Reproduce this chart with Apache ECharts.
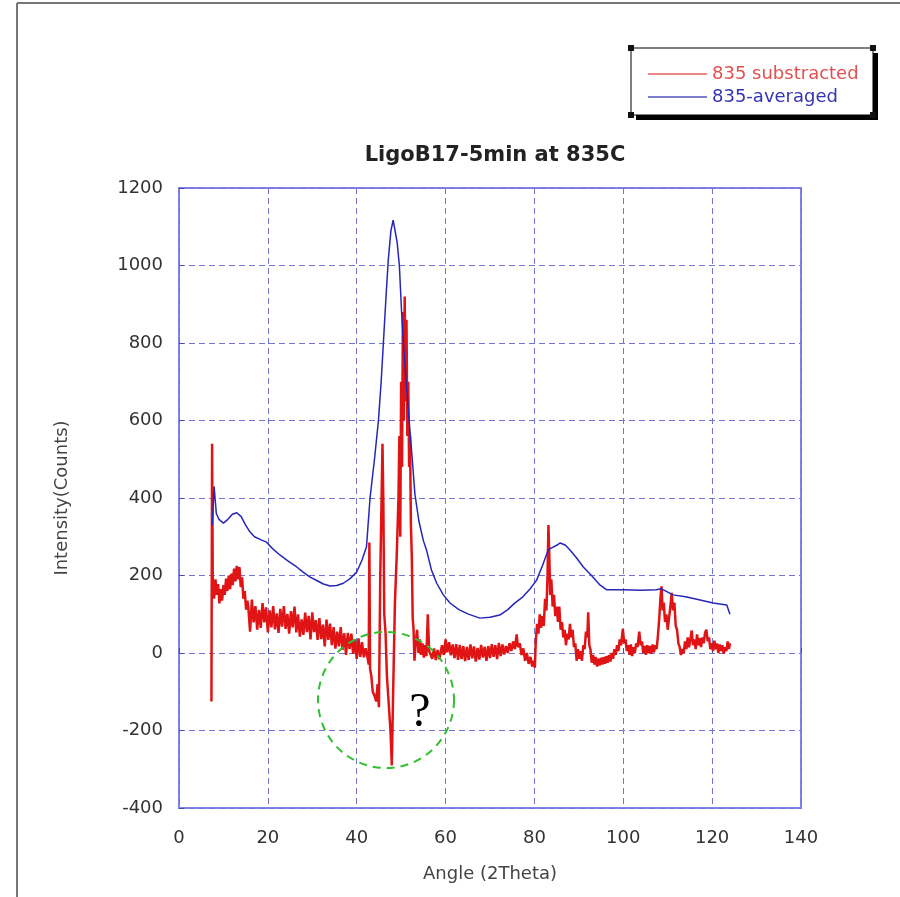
<!DOCTYPE html>
<html>
<head>
<meta charset="utf-8">
<title>LigoB17-5min at 835C</title>
<script src="https://cdn.jsdelivr.net/npm/echarts@6/dist/echarts.min.js"></script>
<style>
  html, body { margin: 0; padding: 0; background: #fff; }
  #chart { width: 900px; height: 897px; }
</style>
</head>
<body>
<div id="chart"></div>
<script>
// Axis ticks
const xTicks = [0, 20, 40, 60, 80, 100, 120, 140];
const yTicks = [-400, -200, 0, 200, 400, 600, 800, 1000, 1200];

// Series names
const seriesNames = ['835 substracted', '835-averaged'];

// 835-averaged : [angle (2Theta), counts]
const averaged = [
  [7.5, 330], [7.9, 430], [8.4, 360], [9.0, 345], [10.0, 335], [11.0, 345], [12.0, 358],
  [13.0, 362], [14.0, 352], [15.0, 330], [16.0, 312], [17.0, 300], [18.5, 292], [19.7, 286],
  [21.0, 270], [22.7, 253], [24.5, 238], [26.5, 222], [28.0, 208], [29.5, 196], [31.0, 187],
  [32.5, 178], [34.0, 173], [35.5, 174], [37.0, 180], [38.5, 192], [40.0, 209], [41.2, 240],
  [42.2, 274], [43.0, 400], [44.0, 500], [44.9, 601], [45.5, 700], [46.0, 800], [46.6, 920],
  [47.1, 1014], [47.7, 1090], [48.2, 1117], [48.6, 1115], [49.1, 1060], [49.6, 1000],
  [50.1, 880], [50.5, 800], [51.2, 690], [51.8, 601], [52.5, 500], [53.1, 410], [54.0, 340],
  [55.0, 290], [55.7, 266], [56.8, 215], [58.0, 180], [59.5, 150], [61.0, 129], [63.0, 112],
  [65.0, 101], [67.7, 90], [70.0, 92], [72.2, 98], [74.0, 112], [75.5, 128], [77.4, 145],
  [79.0, 165], [80.5, 188], [81.8, 225], [83.1, 266], [84.0, 272], [85.0, 278], [85.8, 284],
  [87.0, 278], [88.0, 266], [89.5, 245], [91.0, 222], [93.0, 198], [94.8, 175], [96.3, 163],
  [100.0, 163], [104.0, 162], [107.5, 163], [108.5, 166], [111.2, 150], [114.0, 145],
  [117.3, 137], [120.2, 129], [123.3, 124], [124.0, 100]
];

// 835 substracted : [angle (2Theta), counts]
const substracted = [
  [7.3, -125], [7.45, 540], [7.6, 175], [7.9, 140], [8.2, 190], [8.5, 150], [8.8, 178],
  [9.1, 128], [9.4, 165], [9.7, 135], [10.0, 175], [10.3, 150], [10.6, 192], [10.9, 160],
  [11.2, 200], [11.5, 165], [11.8, 205], [12.1, 175], [12.4, 218], [12.7, 185], [13.0, 225],
  [13.3, 190], [13.6, 222], [13.9, 170], [14.2, 195], [14.5, 140], [14.8, 160], [15.1, 112],
  [15.4, 135], [15.6, 118], [16.0, 55], [16.4, 138], [16.8, 79], [17.2, 121], [17.6, 60],
  [18.0, 111], [18.4, 65], [18.8, 129], [19.2, 79], [19.6, 118], [20.0, 53], [20.4, 110],
  [20.8, 66], [21.2, 121], [21.6, 61], [22.0, 102], [22.4, 52], [22.8, 114], [23.2, 68],
  [23.6, 121], [24.0, 62], [24.4, 101], [24.8, 50], [25.2, 108], [25.6, 66], [26.0, 120],
  [26.4, 53], [26.8, 100], [27.2, 42], [27.6, 87], [28.0, 47], [28.4, 104], [28.8, 54],
  [29.2, 96], [29.6, 35], [30.0, 105], [30.4, 54], [30.8, 85], [31.2, 34], [31.6, 90],
  [32.0, 36], [32.4, 73], [32.8, 17], [33.2, 86], [33.6, 34], [34.0, 76], [34.4, 20],
  [34.8, 67], [35.2, 11], [35.6, 55], [36.0, 17], [36.4, 67], [36.8, 8], [37.2, 51],
  [37.6, -5], [38.0, 52], [38.4, 10], [38.8, 50], [39.2, -2], [39.6, 35], [40.0, -15],
  [40.4, 38], [40.8, -10], [41.2, 28], [41.6, -11], [42.0, 12], [42.4, -10], [42.7, -30],
  [42.85, 285], [43.0, -40], [43.3, -60], [43.6, -100], [44.0, -110], [44.4, -125],
  [44.7, -80], [45.0, -140], [45.3, 200], [45.6, 400], [45.8, 540], [46.0, 380], [46.2, 100],
  [46.5, 50], [46.8, -60], [47.2, -130], [47.6, -200], [47.9, -290], [48.2, -100],
  [48.6, 130], [49.0, 250], [49.4, 400], [49.6, 560], [49.8, 300], [50.0, 700], [50.2, 480],
  [50.4, 880], [50.6, 600], [50.8, 920], [51.0, 650], [51.2, 860], [51.4, 560], [51.6, 700],
  [51.8, 480], [52.0, 560], [52.2, 330], [52.4, 250], [52.6, 90], [52.8, 60], [53.0, -20],
  [53.3, 30], [53.6, 60], [53.9, 0], [54.2, 35], [54.5, -5], [54.8, 25], [55.1, -12],
  [55.4, 20], [55.7, -8], [56.0, 100], [56.3, 5], [56.6, 10], [57.0, -15], [57.4, 12],
  [57.8, -18], [58.2, 8], [58.6, -16], [59.2, 20], [59.6, -5], [60.0, 35], [60.4, 2],
  [60.8, 28], [61.2, -6], [61.6, 22], [62.0, -13], [62.4, 23], [62.8, -18], [63.2, 21],
  [63.6, -16], [64.0, 18], [64.4, -21], [64.8, 16], [65.2, -18], [65.6, 22], [66.0, -14],
  [66.4, 17], [66.8, -22], [67.2, 13], [67.6, -17], [68.0, 21], [68.4, -12], [68.8, 16],
  [69.2, -20], [69.6, 18], [70.0, -13], [70.4, 23], [70.8, -10], [71.2, 20], [71.6, -16],
  [72.0, 26], [72.4, -8], [72.8, 22], [73.2, -4], [73.6, 18], [74.0, 0], [74.4, 25],
  [74.8, 5], [75.2, 30], [75.6, 10], [76.0, 48], [76.3, 15], [76.7, 25], [77.1, -5],
  [77.5, 12], [77.9, -20], [78.3, 0], [78.7, -28], [79.1, -10], [79.5, -35], [79.8, -20],
  [80.1, -38], [80.3, 30], [80.6, 75], [80.9, 50], [81.2, 100], [81.5, 65], [81.8, 95],
  [82.1, 70], [82.4, 140], [82.7, 110], [82.95, 200], [83.15, 330], [83.35, 250],
  [83.55, 150], [83.8, 190], [84.1, 120], [84.4, 150], [84.7, 95], [85.0, 120], [85.3, 80],
  [85.6, 120], [85.9, 60], [86.2, 80], [86.5, 40], [86.8, 60], [87.1, 20], [87.4, 50],
  [87.7, 35], [88.0, 75], [88.3, 40], [88.6, 60], [88.9, 15], [89.2, 25], [89.5, -20],
  [89.8, 10], [90.1, -15], [90.4, 5], [90.7, -20], [91.0, 20], [91.3, 10], [91.6, 55],
  [91.9, 40], [92.1, 105], [92.35, 20], [92.6, 10], [92.9, -25], [93.2, -5], [93.5, -30],
  [93.8, -10], [94.1, -35], [94.4, -15], [94.7, -32], [95.0, -12], [95.3, -30], [95.6, -10],
  [95.9, -28], [96.2, -8], [96.5, -25], [96.8, -5], [97.1, -22], [97.4, 0], [97.7, -15],
  [98.0, 10], [98.3, -5], [98.6, 20], [98.9, 5], [99.2, 35], [99.5, 20], [99.9, 62],
  [100.2, 25], [100.5, 35], [100.8, 5], [101.1, 20], [101.4, -5], [101.7, 22], [102.0, -8],
  [102.3, 15], [102.6, 0], [102.9, 25], [103.2, 15], [103.6, 55], [103.9, 20], [104.2, 30],
  [104.5, 0], [104.8, 18], [105.1, -5], [105.4, 20], [105.7, 0], [106.0, 18], [106.3, -2],
  [106.6, 22], [106.9, 2], [107.2, 20], [107.5, 10], [107.8, 45], [108.1, 90], [108.35, 140],
  [108.6, 172], [108.85, 110], [109.1, 130], [109.4, 80], [109.7, 100], [110.0, 60],
  [110.3, 90], [110.6, 120], [110.9, 155], [111.2, 110], [111.5, 130], [111.8, 70],
  [112.1, 60], [112.4, 25], [112.7, 15], [113.0, -5], [113.3, 10], [113.6, 0], [113.9, 30],
  [114.2, 10], [114.5, 40], [114.8, 15], [115.1, 35], [115.4, 58], [115.7, 20], [116.0, 35],
  [116.3, 10], [116.6, 48], [116.9, 20], [117.2, 38], [117.5, 15], [117.8, 40], [118.1, 25],
  [118.4, 52], [118.7, 60], [119.0, 30], [119.3, 40], [119.6, 10], [119.9, 25], [120.2, 5],
  [120.5, 32], [120.8, 10], [121.1, 25], [121.4, 0], [121.7, 22], [122.0, 5], [122.3, 20],
  [122.6, -2], [122.9, 15], [123.2, 5], [123.5, 30], [123.8, 10], [124.0, 25]
];

const RED = '#e01414';
const BLUE = '#2626b8';
const GRID_LINE = '#7474d2';

const chart = echarts.init(document.getElementById('chart'), null, { renderer: 'canvas' });

const sans = '"DejaVu Sans", Verdana, sans-serif';

chart.setOption({
  backgroundColor: '#ffffff',
  animation: false,
  title: {
    text: 'LigoB17-5min at 835C',
    left: 490,
    top: 140,
    textAlign: 'center',
    textStyle: { fontFamily: sans, fontSize: 21, fontWeight: 'bold', color: '#222' }
  },
  legend: {
    orient: 'vertical',
    left: 643,
    top: 60,
    z: 20,
    itemGap: 5,
    itemWidth: 59,
    itemHeight: 2,
    icon: 'rect',
    textStyle: { fontFamily: sans, fontSize: 18 },
    data: [
      { name: seriesNames[0], itemStyle: { color: '#ee8888' }, textStyle: { color: '#e45050' } },
      { name: seriesNames[1], itemStyle: { color: '#7c7cd0' }, textStyle: { color: '#3434b4' } }
    ]
  },
  grid: {
    left: 179, right: 99, top: 188, bottom: 89,
    show: true,
    borderColor: '#8282e6',
    borderWidth: 2,
    backgroundColor: 'transparent'
  },
  xAxis: {
    type: 'value',
    min: xTicks[0],
    max: xTicks[xTicks.length - 1],
    interval: 20,
    name: 'Angle (2Theta)',
    nameLocation: 'middle',
    nameGap: 57,
    nameTextStyle: { fontFamily: sans, fontSize: 18, color: '#444' },
    axisLine: { show: false },
    axisTick: { show: true, inside: true, length: 5, lineStyle: { color: '#4a4aa8', width: 1 } },
    axisLabel: { fontFamily: sans, fontSize: 18, color: '#333', margin: 21 },
    splitLine: { show: true, lineStyle: { color: GRID_LINE, type: [6, 4], width: 1 } }
  },
  yAxis: {
    type: 'value',
    min: yTicks[0],
    max: yTicks[yTicks.length - 1],
    interval: 200,
    name: 'Intensity(Counts)',
    nameLocation: 'middle',
    nameGap: 108,
    nameRotate: 90,
    nameTextStyle: { fontFamily: sans, fontSize: 18, color: '#444' },
    axisLine: { show: false },
    axisTick: { show: true, inside: true, length: 5, lineStyle: { color: '#4a4aa8', width: 1 } },
    axisLabel: { fontFamily: sans, fontSize: 18, color: '#333', margin: 16, formatter: v => String(v) },
    splitLine: { show: true, lineStyle: { color: GRID_LINE, type: [6, 4], width: 1 } }
  },
  series: [
    {
      name: seriesNames[0],
      type: 'line',
      data: substracted,
      showSymbol: false,
      symbol: 'none',
      color: RED,
      lineStyle: { color: RED, width: 2.5 },
      z: 3
    },
    {
      name: seriesNames[1],
      type: 'line',
      data: averaged,
      showSymbol: false,
      symbol: 'none',
      color: BLUE,
      lineStyle: { color: BLUE, width: 1.5 },
      z: 4
    }
  ],
  graphic: [
    // outer frame (left and top edges)
    { type: 'line', z: 0, shape: { x1: 17, y1: 3, x2: 900, y2: 3 }, style: { stroke: '#777', lineWidth: 2 } },
    { type: 'line', z: 0, shape: { x1: 17, y1: 3, x2: 17, y2: 897 }, style: { stroke: '#777', lineWidth: 2 } },
    // legend box with drop shadow and corner handles
    { type: 'rect', z: 1, shape: { x: 636, y: 53, width: 242, height: 67 }, style: { fill: '#000' } },
    { type: 'rect', z: 2, shape: { x: 631, y: 48, width: 242, height: 67 }, style: { fill: '#fff', stroke: '#000', lineWidth: 1 } },
    { type: 'rect', z: 3, shape: { x: 628, y: 45, width: 6, height: 6 }, style: { fill: '#111' } },
    { type: 'rect', z: 3, shape: { x: 870, y: 45, width: 6, height: 6 }, style: { fill: '#111' } },
    { type: 'rect', z: 3, shape: { x: 628, y: 112, width: 6, height: 6 }, style: { fill: '#111' } },
    { type: 'rect', z: 3, shape: { x: 870, y: 112, width: 6, height: 6 }, style: { fill: '#111' } },
    // annotation around the negative dips
    { type: 'circle', z: 30, shape: { cx: 386, cy: 700, r: 68 }, style: { fill: 'none', stroke: '#2fbf2f', lineWidth: 2, lineDash: [8, 6] } },
    { type: 'text', z: 30, x: 420, y: 713, style: { text: '?', font: '48px "Liberation Serif", "DejaVu Serif", serif', fill: '#000', align: 'center', verticalAlign: 'middle' } }
  ]
});
</script>
</body>
</html>
